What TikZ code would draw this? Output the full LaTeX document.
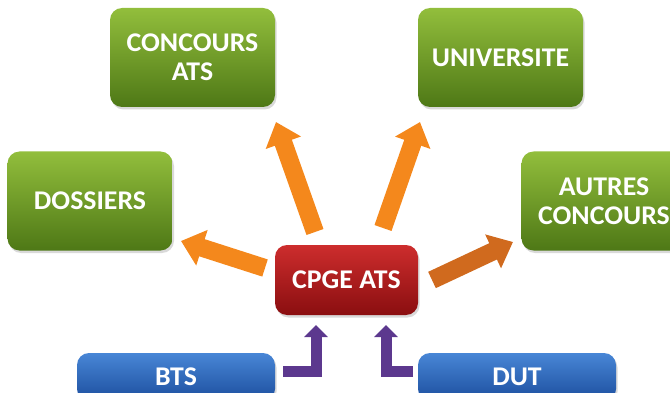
\documentclass[tikz,border=0pt]{standalone}
\usepackage{fontspec}
\setmainfont{Carlito}[FakeStretch=1.03]
\usetikzlibrary{arrows.meta,shadows}
\definecolor{gtop}{RGB}{146,190,60}
\definecolor{gbot}{RGB}{78,120,22}
\definecolor{rtop}{RGB}{205,45,45}
\definecolor{rbot}{RGB}{138,14,16}
\definecolor{btop}{RGB}{72,134,214}
\definecolor{bbot}{RGB}{28,78,158}
\definecolor{orng}{RGB}{244,136,28}
\definecolor{dorng}{RGB}{208,106,30}
\definecolor{purp}{RGB}{92,56,142}
\begin{document}
\begin{tikzpicture}[x=1pt,y=-1pt,
  box/.style={rounded corners=12pt, align=center, text=white, inner sep=0pt,
    font=\fontsize{27}{29}\selectfont\bfseries,
    drop shadow={opacity=0.3, shadow xshift=1.5pt, shadow yshift=-2.5pt}},
  gbox/.style={box, top color=gtop, bottom color=gbot, minimum width=165pt, minimum height=99pt},
  rbox/.style={box, top color=rtop, bottom color=rbot, minimum width=143pt, minimum height=70pt},
  bbox/.style={box, top color=btop, bottom color=bbot, minimum width=198pt, minimum height=48pt},
  oarrow/.style={line width=18pt, draw=orng, -{Triangle[length=22pt,width=36pt]}},
  parrow/.style={line width=11pt, draw=purp, line join=miter, -{Triangle[length=12pt,width=23pt]}}]
\useasboundingbox (0,0) rectangle (670,393);
\node[gbox] (conc) at (192.5,57.5) {CONCOURS\\ATS};
\node[gbox] (univ) at (500.5,57.5) {UNIVERSITE};
\node[gbox] (doss) at (90,201) {DOSSIERS};
\node[gbox] (autr) at (604,201) {AUTRES\\CONCOURS};
\node[rbox] (cpge) at (346.5,280) {CPGE ATS};
\node[bbox] (bts) at (176,377) {BTS};
\node[bbox] (dut) at (517,377) {DUT};
% orange arrows
\coordinate (o1s) at (315,232); \coordinate (o1e) at (276,122);
\coordinate (o2s) at (265,268); \coordinate (o2e) at (181,241);
\coordinate (o3s) at (383,228); \coordinate (o3e) at (420,122);
\coordinate (o4s) at (432,280); \coordinate (o4e) at (513,242);
\draw[oarrow] (o1s) -- (o1e);
\draw[oarrow] (o2s) -- (o2e);
\draw[oarrow] (o3s) -- (o3e);
\draw[oarrow, draw=dorng] (o4s) -- (o4e);
% purple arrows
\coordinate (p1) at (283,371); \coordinate (p1e) at (316,325);
\coordinate (p2) at (413,371); \coordinate (p2e) at (386,325);
\draw[parrow] (p1) -| (p1e);
\draw[parrow] (p2) -| (p2e);
\end{tikzpicture}
\end{document}
